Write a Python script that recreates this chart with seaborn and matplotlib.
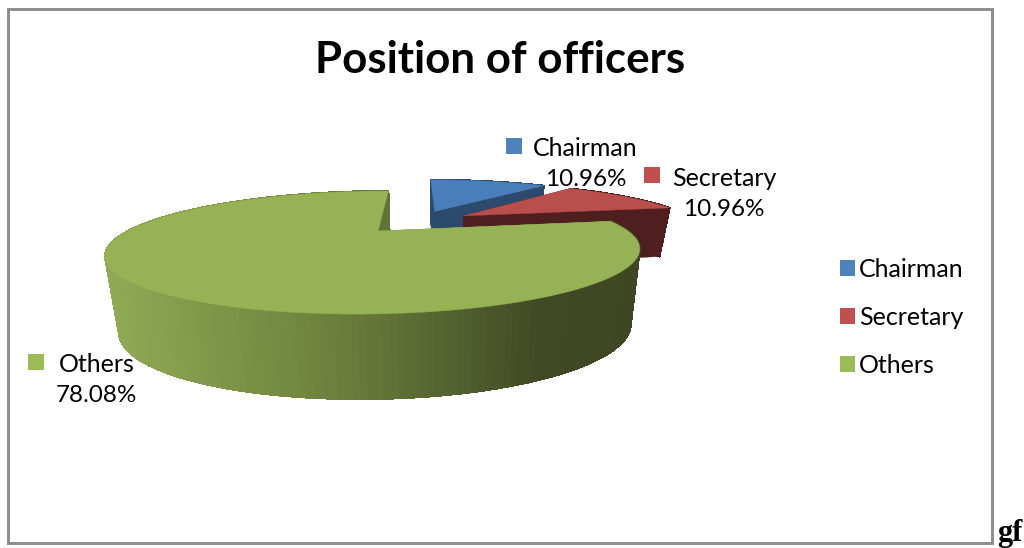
import numpy as np
import matplotlib
matplotlib.use("Agg")
import matplotlib.pyplot as plt
import seaborn as sns
from matplotlib.collections import PolyCollection
from matplotlib.patches import Patch, Polygon, Rectangle

# Chart content
title = "Position of officers"
categories = ["Chairman", "Secretary", "Others"]
shares = [10.96, 10.96, 78.08]

# Colours: top face, radial cut face
top_colors = sns.color_palette(["#4a7ebb", "#b84f4c", "#97b254"])
cut_colors = sns.color_palette(["#2c4a6e", "#4f1e1e", "#84a046"])
legend_colors = sns.color_palette(["#4f81bd", "#c0504d", "#9bbb59"])
wall_x = [105, 340, 540, 640]
wall_rgb = np.array([[145, 170, 85], [107, 127, 60], [64, 73, 36], [62, 71, 35]]) / 255

# Pie pose on the canvas
PIVOT = (378.0, 231.0)
RX, RY, SHEAR = 250.0, 54.0, 14.0
K_DEPTH, K_SIDE = 0.35, 0.0
EXPLODE = 0.243
WALL = 72.0
WALL_SCALE = [0.72, 0.72, 1.0]

sns.set_theme(style="white")
plt.rcParams["font.family"] = ["Lato", "DejaVu Sans"]

fig = plt.figure(figsize=(10.24, 5.48), dpi=100, facecolor="white")
ax = fig.add_axes([0, 0, 1, 1])
ax.set_xlim(0, 1024)
ax.set_ylim(548, 0)
ax.axis("off")


def project(u, v, scale):
    """Perspective view of a disc point; returns top and bottom screen points."""
    w = 1 + K_DEPTH * v + K_SIDE * u
    x = PIVOT[0] + (RX * u + SHEAR * v) / w
    y = PIVOT[1] - RY * v / w
    drop = scale * WALL * w ** -0.385
    top = np.column_stack([x, y])
    bottom = np.column_stack([x + 0.043 * (430 - x), y + drop])
    return top, bottom


edges = np.concatenate([[0], np.cumsum(shares)]) / sum(shares) * 2 * np.pi
mids = (edges[:-1] + edges[1:]) / 2
ref = np.array([np.sin(mids[-1]), np.cos(mids[-1])])

for i in range(len(shares)):
    a0, a1 = edges[i], edges[i + 1]
    off = EXPLODE * (np.array([np.sin(mids[i]), np.cos(mids[i])]) - ref)
    t = np.linspace(a0, a1, 240)
    u = off[0] + np.sin(t)
    v = off[1] + np.cos(t)
    rim_top, rim_bot = project(u, v, WALL_SCALE[i])
    apex_top, apex_bot = project(off[:1], off[1:], WALL_SCALE[i])

    # radial cut faces
    for j in (0, -1):
        quad = [apex_top[0], rim_top[j], rim_bot[j], apex_bot[0]]
        ax.add_patch(Polygon(quad, closed=True, fc=cut_colors[i], ec=cut_colors[i], lw=0.3))

    # outer wall: shaded strips on the large slice, flat on the small ones
    strips = [np.array([rim_top[n], rim_top[n + 1], rim_bot[n + 1], rim_bot[n]])
              for n in range(len(t) - 1)]
    if i == len(shares) - 1:
        mid_x = np.array([s[:, 0].mean() for s in strips])
        shade = np.column_stack([np.interp(mid_x, wall_x, wall_rgb[:, c]) for c in range(3)])
    else:
        shade = [cut_colors[i]] * len(strips)
    ax.add_collection(PolyCollection(strips, facecolors=shade, edgecolors=shade,
                                     linewidths=0.8, antialiaseds=False))

    # top face
    ax.add_patch(Polygon(np.vstack([apex_top, rim_top]), closed=True,
                         fc=top_colors[i], ec=top_colors[i], lw=0.3))

# Chart frame and the stray text that follows it on the page
ax.add_patch(Rectangle((8, 9), 984, 534, fill=False, ec="#8c8c8c", lw=2.1))
ax.text(997, 541.5, "gf", family="Liberation Serif", weight="bold", fontsize=22,
        color="black", ha="left", va="baseline", clip_on=False)

ax.text(500, 60, title, ha="center", va="center", fontsize=31.6, weight="bold", color="black")

# Data labels with their colour keys
label_spots = [(533, 148, 586, 180, 514, 146), (672, 178, 724, 209, 652, 175), (59, 365, 96, 396, 36, 362)]
for (name, value, color, spot) in zip(categories, shares, legend_colors, label_spots):
    nx, ny, vx, vy, kx, ky = spot
    ax.text(nx, ny, name, ha="left", va="center", fontsize=18, color="black")
    ax.text(vx, vy, f"{value:.2f}%", ha="center", va="center", fontsize=17.5, color="black")
    ax.scatter([kx], [ky], marker="s", s=117, color=[color], linewidths=0)

handles = [Patch(fc=c, ec="none") for c in legend_colors]
ax.legend(handles, categories, loc="upper left", bbox_to_anchor=(830, 248),
          bbox_transform=ax.transData, frameon=False, fontsize=18, labelcolor="black",
          handlelength=0.6, handleheight=0.6, handletextpad=0.17,
          labelspacing=1.0, borderpad=0.4, borderaxespad=0)

sns.despine(ax=ax, left=True, bottom=True)
fig.savefig("out.png", dpi=100)
